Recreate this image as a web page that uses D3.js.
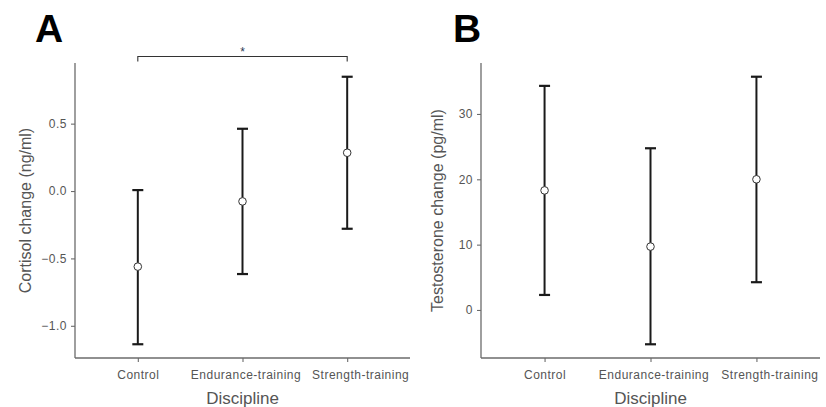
<!DOCTYPE html>
<html><head><meta charset="utf-8">
<script src="https://cdn.jsdelivr.net/npm/d3@7"></script>
<style>body{margin:0;background:#fff}svg{display:block}</style>
</head><body>
<svg id="c" width="826" height="407"></svg>
<script>
const categories = ["Control", "Endurance-training", "Strength-training"];
const cortisolMean = [-0.561, -0.077, 0.284];
const cortisolLow = [-1.137, -0.616, -0.280];
const cortisolHigh = [0.007, 0.462, 0.848];
const cortisolTicks = [-1.0, -0.5, 0.0, 0.5];
const testoMean = [18.3, 9.7, 20.0];
const testoLow = [2.3, -5.25, 4.25];
const testoHigh = [34.3, 24.75, 35.7];
const testoTicks = [0, 10, 20, 30];
const sigPair = ["Control", "Strength-training"];
const sigLabel = "*";

const svg = d3.select("#c");
const font = "Liberation Sans, Arial, sans-serif";

function panel(opt) {
  const {x0, x1, y0, y1, domain, mean, low, high, ticks, fmt, ytitle, letter, letterX, titleX} = opt;
  const g = svg.append("g");
  const x = d3.scalePoint().domain(categories).range([x0, x1]).padding(0.6);
  const y = d3.scaleLinear().domain(domain).range([y1, y0]);

  const ya = g.append("g").attr("transform", `translate(${x0},0)`)
    .call(d3.axisLeft(y).tickValues(ticks).tickFormat(fmt).tickSizeOuter(0).tickSize(4).tickPadding(4));
  const xa = g.append("g").attr("transform", `translate(0,${y1})`)
    .call(d3.axisBottom(x).tickSizeOuter(0).tickSize(4).tickPadding(8));
  [ya, xa].forEach(a => {
    a.select(".domain").attr("stroke", "#6b6b6b").attr("stroke-width", 1.3);
    a.selectAll(".tick line").attr("stroke", "#6b6b6b").attr("stroke-width", 1.1);
    a.selectAll(".tick text").attr("fill", "#555555").style("font-family", font).style("font-size", "12px").style("letter-spacing", "0.5px");
  });
  xa.selectAll(".tick text").attr("dx", (d, i) => i === categories.length - 1 ? 13 : (i === 1 ? 3 : 0));
  ya.select(".domain").attr("d", `M0,${y0}V${y1}`);
  xa.select(".domain").attr("d", `M${x0},0H${x1}`);

  g.append("text").attr("transform", `translate(${titleX},${(y0 + y1) / 2}) rotate(-90)`)
    .attr("text-anchor", "middle").attr("dy", "0.35em").attr("fill", "#555555")
    .style("font-family", font).style("font-size", "16px").text(ytitle);
  g.append("text").attr("x", x(categories[1])).attr("y", 404).attr("text-anchor", "middle")
    .attr("fill", "#555555").style("font-family", font).style("font-size", "17px").text("Discipline");
  g.append("text").attr("x", letterX).attr("y", 42).attr("fill", "#000")
    .style("font-family", font).style("font-weight", "bold").style("font-size", "39px").text(letter);

  const cap = 5.5;
  categories.forEach((c, i) => {
    const cx = x(c);
    g.append("line").attr("x1", cx).attr("x2", cx).attr("y1", y(low[i])).attr("y2", y(high[i]))
      .attr("stroke", "#1a1a1a").attr("stroke-width", 2);
    [low[i], high[i]].forEach(v => g.append("line").attr("x1", cx - cap).attr("x2", cx + cap)
      .attr("y1", y(v)).attr("y2", y(v)).attr("stroke", "#1a1a1a").attr("stroke-width", 2.2));
    g.append("circle").attr("cx", cx).attr("cy", y(mean[i])).attr("r", 3.8)
      .attr("fill", "#fff").attr("stroke", "#333").attr("stroke-width", 1);
  });
  return {x, y, g};
}

const A = panel({x0: 75, x1: 410, y0: 63, y1: 358, domain: [-1.239, 0.95],
  mean: cortisolMean, low: cortisolLow, high: cortisolHigh, ticks: cortisolTicks,
  fmt: d3.format(".1f"), ytitle: "Cortisol change (ng/ml)", letter: "A", letterX: 35, titleX: 25});

const B = panel({x0: 481, x1: 820, y0: 63, y1: 358, domain: [-7.35, 37.8],
  mean: testoMean, low: testoLow, high: testoHigh, ticks: testoTicks,
  fmt: d3.format("d"), ytitle: "Testosterone change (pg/ml)", letter: "B", letterX: 453, titleX: 437});

// significance bracket
const bx1 = A.x(sigPair[0]), bx2 = A.x(sigPair[1]), by = 56.5;
A.g.append("path").attr("d", `M${bx1},${by + 5}V${by}H${bx2}V${by + 5}`)
  .attr("fill", "none").attr("stroke", "#333").attr("stroke-width", 1.1);
A.g.append("text").attr("x", (bx1 + bx2) / 2).attr("y", by - 0.5).attr("text-anchor", "middle")
  .attr("fill", "#2b3a55").style("font-family", font).style("font-size", "12px").text(sigLabel);
</script>
</body></html>
